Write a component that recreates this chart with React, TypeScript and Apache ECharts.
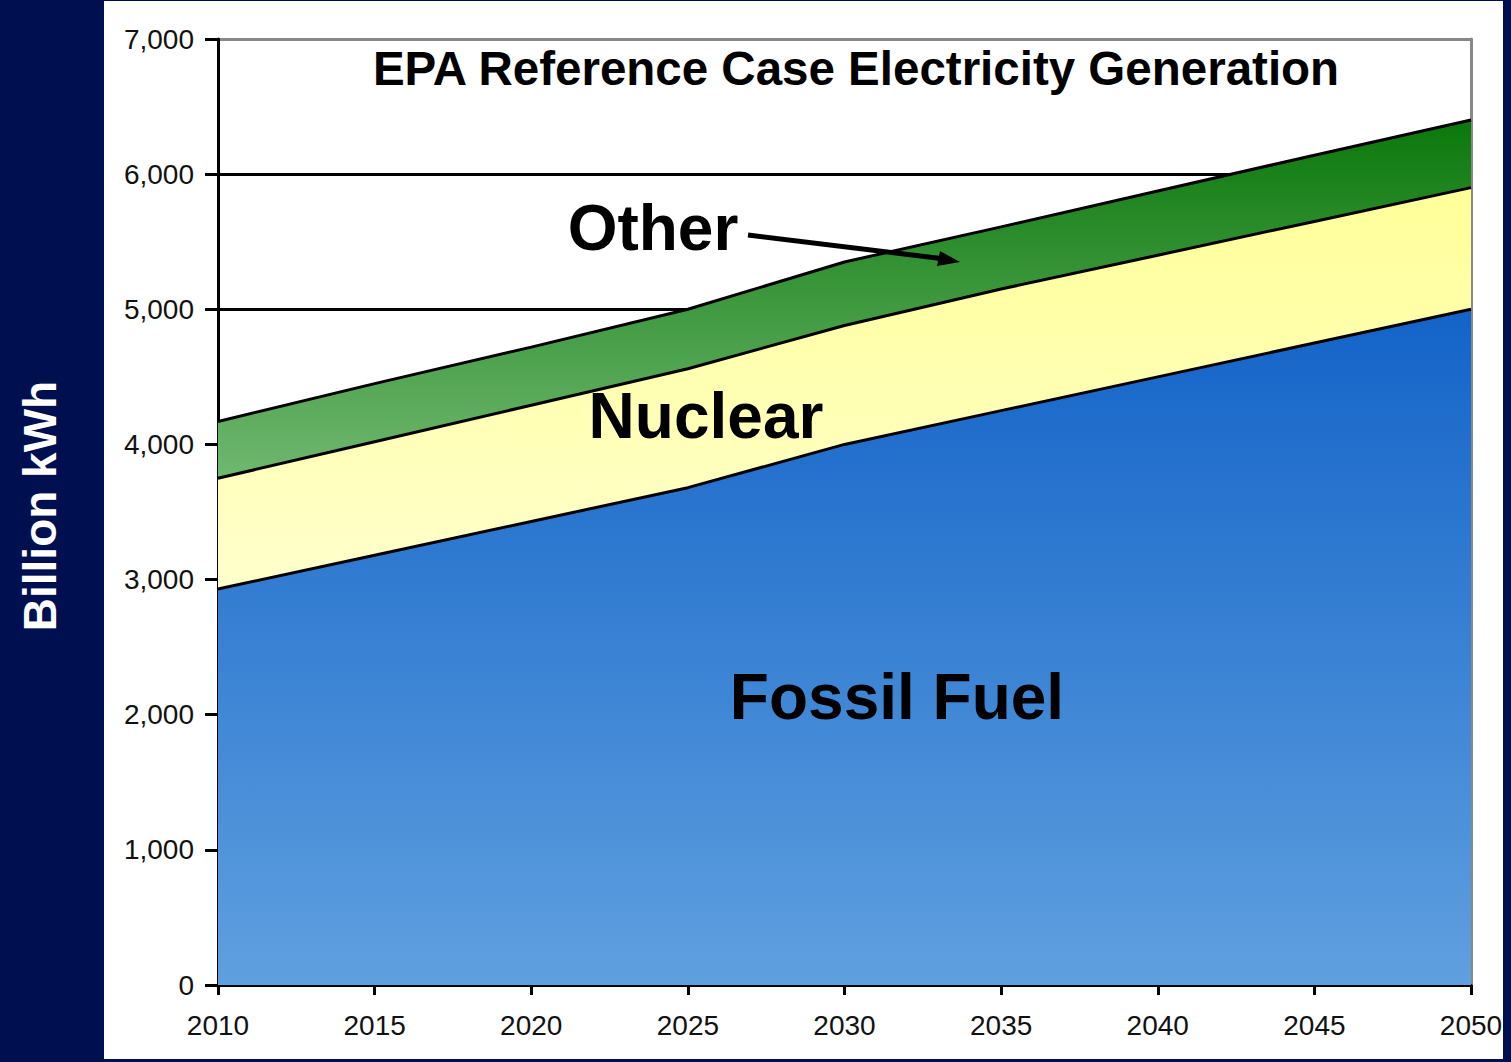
import React, { useEffect, useRef } from "react";
import * as echarts from "echarts";

const years = ["2010", "2015", "2020", "2025", "2030", "2035", "2040", "2045", "2050"];
const fossilFuel = [2930, 3180, 3430, 3680, 4000, 4250, 4500, 4750, 5000];
const nuclear = [820, 840, 860, 880, 880, 900, 900, 900, 900];
const other = [420, 430, 430, 440, 470, 460, 475, 490, 500];
const yTicks = [0, 1000, 2000, 3000, 4000, 5000, 6000, 7000];

const FONT = "'Liberation Sans', Arial, sans-serif";
const NAVY = "#000F50";

export default function App() {
  const ref = useRef<HTMLDivElement>(null);
  useEffect(() => {
    document.body.style.margin = "0";
    const chart = echarts.init(ref.current!, null, { renderer: "svg" });
    const grad = (top: string, bottom: string) =>
      new echarts.graphic.LinearGradient(0, 0, 0, 1, [
        { offset: 0, color: top },
        { offset: 1, color: bottom },
      ]);
    const splitColors = yTicks.map((t, i) => (i === yTicks.length - 1 ? "#888888" : "#000000"));
    chart.setOption({
      animation: false,
      backgroundColor: NAVY,
      grid: { left: 218, right: 40, top: 39, bottom: 77, containLabel: false },
      xAxis: {
        type: "category",
        data: years,
        boundaryGap: false,
        axisLine: { show: true, lineStyle: { color: "#000", width: 3 } },
        axisTick: { show: true, length: 10, alignWithLabel: true, lineStyle: { color: "#000", width: 3 } },
        axisLabel: {
          margin: 26,
          fontSize: 28,
          fontFamily: FONT,
          color: "#111111",
          interval: 0,
        },
        splitLine: { show: false },
      },
      yAxis: [
        {
          type: "value",
          min: 0,
          max: 7000,
          interval: 1000,
          axisLine: { show: true, lineStyle: { color: "#000", width: 3 } },
          axisTick: { show: true, length: 13, lineStyle: { color: "#000", width: 3 } },
          axisLabel: { margin: 24, fontSize: 28, fontFamily: FONT, color: "#111111" },
          splitLine: { show: true, lineStyle: { color: splitColors, width: 3 } },
        },
        {
          type: "value",
          position: "right",
          min: 0,
          max: 7000,
          interval: 1000,
          axisLine: { show: true, lineStyle: { color: "#888888", width: 3 } },
          axisTick: { show: false },
          axisLabel: { show: false },
          splitLine: { show: false },
        },
      ],
      series: [
        {
          name: "Fossil Fuel",
          type: "line",
          stack: "total",
          symbol: "none",
          data: fossilFuel,
          lineStyle: { color: "#000", width: 3 },
          areaStyle: { color: grad("#1363C8", "#5FA0DF"), opacity: 1 },
        },
        {
          name: "Nuclear",
          type: "line",
          stack: "total",
          symbol: "none",
          data: nuclear,
          lineStyle: { color: "#000", width: 3 },
          areaStyle: { color: grad("#FFFF99", "#FFFFCC"), opacity: 1 },
        },
        {
          name: "Other",
          type: "line",
          stack: "total",
          symbol: "none",
          data: other,
          lineStyle: { color: "#000", width: 3 },
          areaStyle: { color: grad("#0B780B", "#70B870"), opacity: 1 },
        },
      ],
      graphic: [
        {
          type: "rect",
          z: -10,
          silent: true,
          shape: { x: 104, y: 1, width: 1399, height: 1058 },
          style: { fill: "#ffffff" },
        },
        {
          type: "text",
          x: 40,
          y: 506,
          rotation: Math.PI / 2,
          z: 10,
          style: {
            text: "Billion kWh",
            fill: "#ffffff",
            font: `bold 46px ${FONT}`,
            textAlign: "center",
            textVerticalAlign: "middle",
          },
        },
        {
          type: "text",
          x: 856,
          y: 68,
          z: 10,
          style: {
            text: "EPA Reference Case Electricity Generation",
            fill: "#000",
            font: `bold 47.5px ${FONT}`,
            textAlign: "center",
            textVerticalAlign: "middle",
          },
        },
        {
          type: "text",
          x: 653,
          y: 228,
          z: 10,
          style: {
            text: "Other",
            fill: "#000",
            font: `bold 64px ${FONT}`,
            textAlign: "center",
            textVerticalAlign: "middle",
          },
        },
        {
          type: "text",
          x: 706,
          y: 416,
          z: 10,
          style: {
            text: "Nuclear",
            fill: "#000",
            font: `bold 64px ${FONT}`,
            textAlign: "center",
            textVerticalAlign: "middle",
          },
        },
        {
          type: "text",
          x: 897,
          y: 697,
          z: 10,
          style: {
            text: "Fossil Fuel",
            fill: "#000",
            font: `bold 64px ${FONT}`,
            textAlign: "center",
            textVerticalAlign: "middle",
          },
        },
        {
          type: "line",
          z: 10,
          shape: { x1: 748, y1: 235, x2: 945, y2: 259 },
          style: { stroke: "#000", lineWidth: 5 },
        },
        {
          type: "polygon",
          z: 10,
          shape: { points: [[960, 262], [940, 251], [937, 266]] },
          style: { fill: "#000" },
        },
      ],
    });
    return () => chart.dispose();
  }, []);
  return (
    <div
      ref={ref}
      style={{ position: "absolute", left: 0, top: 0, width: 1511, height: 1062 }}
    />
  );
}
